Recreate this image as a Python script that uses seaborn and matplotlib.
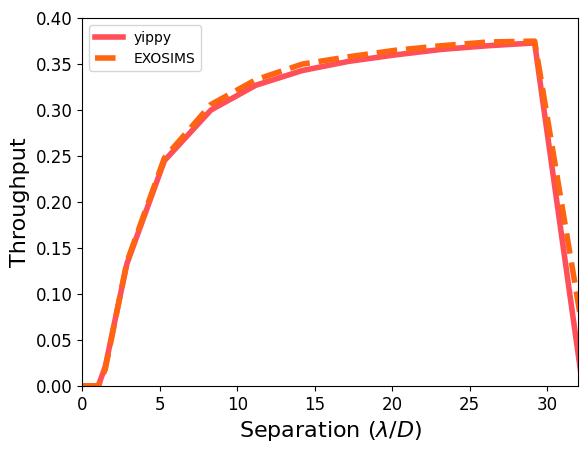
import matplotlib
matplotlib.use("Agg")
import matplotlib.pyplot as plt
import seaborn as sns
import pandas as pd

yippy_sep = [0.0, 1.03, 1.48, 2.88, 5.3, 8.3, 11.2, 14.2, 17.2, 20.2, 23.2, 26.2, 29.2, 32.3]
yippy_thr = [0.0, 0.0, 0.021, 0.133, 0.245, 0.300, 0.327, 0.343, 0.353, 0.360, 0.366, 0.370, 0.373, 0.0]

exo_sep = [0.0, 1.03, 1.48, 2.88, 5.3, 8.3, 11.2, 14.2, 17.2, 20.2, 23.2, 26.2, 29.2, 32.9]
exo_thr = [0.0, 0.0, 0.018, 0.135, 0.248, 0.306, 0.333, 0.350, 0.358, 0.365, 0.370, 0.374, 0.375, 0.0]

df_y = pd.DataFrame({"sep": yippy_sep, "thr": yippy_thr})
df_e = pd.DataFrame({"sep": exo_sep, "thr": exo_thr})

fig, ax = plt.subplots(figsize=(5.88, 4.53), dpi=100)
sns.lineplot(data=df_y, x="sep", y="thr", ax=ax, color="#FF4F58", lw=4, label="yippy", sort=False)
sns.lineplot(data=df_e, x="sep", y="thr", ax=ax, color="#FF6410", lw=4, ls="--", label="EXOSIMS", sort=False)

ax.set_xlim(0, 32)
ax.set_ylim(0, 0.40)
ax.set_xlabel(r"Separation ($\lambda/D$)", fontsize=16)
ax.set_ylabel("Throughput", fontsize=16)
ax.tick_params(labelsize=12)
ax.legend(loc="upper left", fontsize=10)
fig.subplots_adjust(left=0.14, right=0.983, top=0.96, bottom=0.148)
fig.savefig("out.png", dpi=100)
